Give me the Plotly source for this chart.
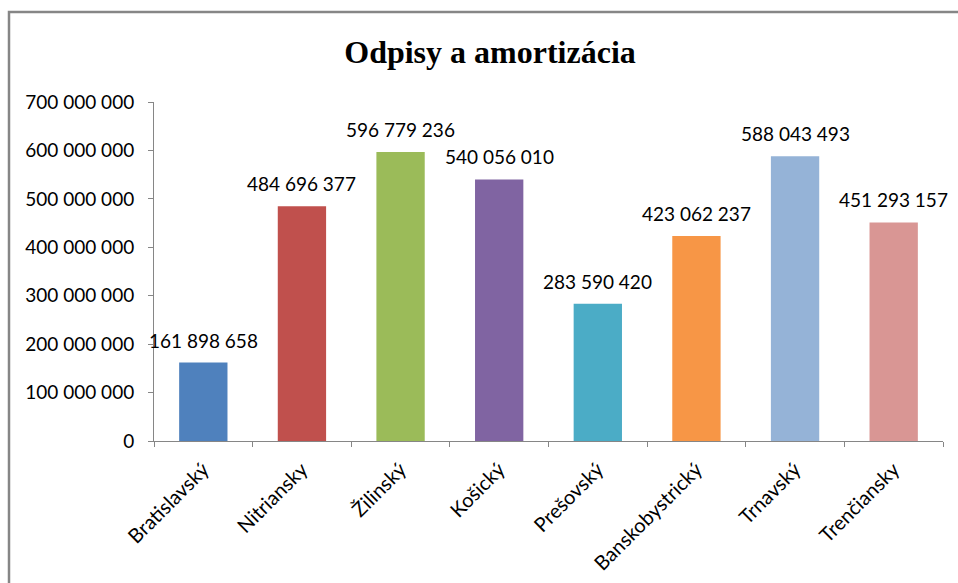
import plotly.graph_objects as go

categories = ["Bratislavský", "Nitriansky", "Žilinský", "Košický", "Prešovský",
              "Banskobystrický", "Trnavský", "Trenčiansky"]
values = [161898658, 484696377, 596779236, 540056010, 283590420,
          423062237, 588043493, 451293157]
colors = ["#4F81BD", "#C0504D", "#9BBB59", "#8064A2", "#4BACC6",
          "#F79646", "#95B3D7", "#D99694"]
title_text = "Odpisy a amortizácia"

W, H = 958, 583
L, R, T, B = 154, 15, 102, 142
pw, ph = W - L - R, H - T - B

def fmt(v):
    return f"{v:,}".replace(",", " ")

fig = go.Figure()
fig.add_trace(go.Bar(x=categories, y=values, marker=dict(color=colors, line=dict(width=0)),
                     hoverinfo="x+y"))

font_main = "Lato, 'Open Sans', sans-serif"
annotations = []
for c, v in zip(categories, values):
    annotations.append(dict(x=c, y=v, xref="x", yref="y", text=fmt(v), showarrow=False,
                            yanchor="bottom", yshift=9,
                            font=dict(family=font_main, size=19, color="#000000")))

fig.update_layout(
    width=W, height=H,
    margin=dict(l=L, r=R, t=T, b=B, autoexpand=False),
    paper_bgcolor="white", plot_bgcolor="white",
    separators=", ",
    showlegend=False,
    bargap=0.51,
    title=dict(text="<b>" + title_text + "</b>", x=490 / W, xref="container", xanchor="center",
               y=1 - 52 / H, yref="container", yanchor="middle",
               font=dict(family="'Liberation Serif', 'Times New Roman', serif", size=32, color="#000000")),
    xaxis=dict(range=[-0.5, len(categories) - 0.5], autorange=False,
               showgrid=False, showline=True, linecolor="#868686", linewidth=1,
               ticks="outside", tickson="boundaries", ticklen=5, tickcolor="#868686",
               tickangle=-45, ticklabelstandoff=8, automargin=False,
               tickfont=dict(family=font_main, size=20, color="#000000"),
               zeroline=False),
    yaxis=dict(range=[0, 700000000], dtick=100000000, tickformat=",d",
               showgrid=False, showline=True, linecolor="#868686", linewidth=1,
               ticks="outside", ticklen=5, tickcolor="#868686",
               ticklabelstandoff=10, automargin=False,
               tickfont=dict(family=font_main, size=19, color="#000000"),
               zeroline=False),
    annotations=annotations,
    shapes=[dict(type="rect", xref="paper", yref="paper",
                 x0=(9 - L) / pw, x1=(W + 20 - L) / pw,
                 y0=-(H + 20 - (H - B)) / ph, y1=(H - B - 12) / ph,
                 line=dict(color="#868686", width=2.5), fillcolor="rgba(0,0,0,0)",
                 layer="below")],
)

fig.write_html("out.html", config={"displayModeBar": False},
               post_script="document.body.style.margin='0';document.body.style.overflow='hidden';")
